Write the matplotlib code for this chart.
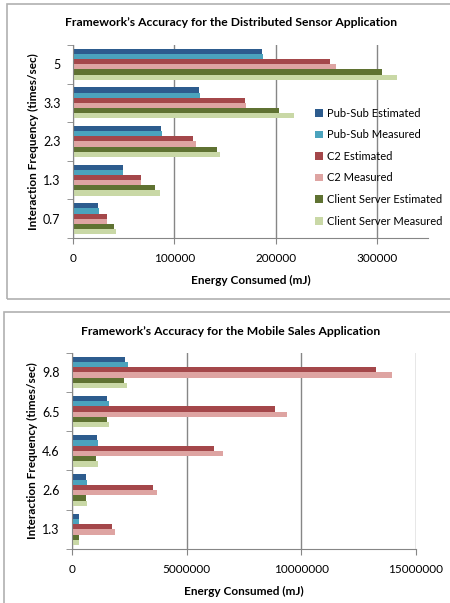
import numpy as np
import matplotlib
matplotlib.use("Agg")
import matplotlib.pyplot as plt
from matplotlib.patches import Rectangle
from matplotlib.ticker import FixedLocator

plt.rcParams['font.family'] = ['Lato', 'DejaVu Sans']

series = ["Pub-Sub Estimated", "Pub-Sub Measured", "C2 Estimated",
          "C2 Measured", "Client Server Estimated", "Client Server Measured"]
colors = ["#2D5C8E", "#4BA3BD", "#A4474A", "#DEA4A2", "#5F7232", "#C9D8A6"]

# distributed sensor application
sensor_freq = ["0.7", "1.3", "2.3", "3.3", "5"]
sensor_vals = {
    "Pub-Sub Estimated":       [24900, 49500, 86900, 124300, 186200],
    "Pub-Sub Measured":        [25200, 49500, 87900, 125200, 187500],
    "C2 Estimated":            [33800, 67500, 118000, 169200, 253800],
    "C2 Measured":             [33400, 66900, 121000, 170800, 259000],
    "Client Server Estimated": [40700, 81300, 142300, 203000, 304600],
    "Client Server Measured":  [42300, 86200, 145200, 218000, 319000],
}

# mobile sales application
sales_freq = ["1.3", "2.6", "4.6", "6.5", "9.8"]
sales_vals = {
    "Pub-Sub Estimated":       [310000, 630000, 1080000, 1530000, 2300000],
    "Pub-Sub Measured":        [320000, 660000, 1150000, 1620000, 2430000],
    "C2 Estimated":            [1760000, 3520000, 6180000, 8840000, 13250000],
    "C2 Measured":             [1860000, 3730000, 6570000, 9370000, 13980000],
    "Client Server Estimated": [290000, 600000, 1060000, 1510000, 2290000],
    "Client Server Measured":  [320000, 640000, 1140000, 1600000, 2400000],
}

W, H = 450, 603
fig = plt.figure(figsize=(W / 100, H / 100), dpi=100)

# chart frames
fig.patches.append(Rectangle((7 / W, 1 - 299 / H), 460 / W, 295 / H,
                             transform=fig.transFigure, fill=False,
                             edgecolor="#b0b0b0", linewidth=1.2))
fig.patches.append(Rectangle((4 / W, 1 - 620 / H), 460 / W, 308 / H,
                             transform=fig.transFigure, fill=False,
                             edgecolor="#b0b0b0", linewidth=1.2))


def draw(ax, cats, vals, xmax, xticks, title, title_y, legend):
    n = len(series)
    h = 0.8 / n
    y = np.arange(len(cats))
    for j, name in enumerate(series):
        ax.barh(y + 0.4 - (j + 0.5) * h, vals[name], height=h,
                color=colors[j], label=name, linewidth=0)
    ax.set_ylim(-0.5, len(cats) - 0.5)
    ax.set_xlim(0, xmax)
    ax.set_xticks(xticks)
    ax.set_xticklabels([str(t) for t in xticks], fontsize=8.5)
    ax.set_yticks(y)
    ax.set_yticklabels(cats, fontsize=9)
    ax.yaxis.set_minor_locator(FixedLocator(np.arange(len(cats) + 1) - 0.5))
    ax.tick_params(axis="y", which="major", length=0, pad=9)
    ax.tick_params(axis="y", which="minor", length=4, color="#868686")
    ax.tick_params(axis="x", length=4, color="#868686", pad=7)
    for s in ["top", "right"]:
        ax.spines[s].set_visible(False)
    for s in ["left", "bottom"]:
        ax.spines[s].set_color("#868686")
    ax.grid(axis="x", color="#868686", linewidth=1)
    ax.set_axisbelow(True)
    ax.set_xlabel("Energy Consumed (mJ)", fontsize=8.5, fontweight="bold",
                  labelpad=8)
    ax.set_ylabel("Interaction Frequency (times/sec)", fontsize=8.5,
                  fontweight="bold", labelpad=3)
    fig.text(231 / W, 1 - title_y / H, title, ha="center", va="center",
             fontsize=8.7, fontweight="bold")
    if legend:
        ax.legend(loc="upper left", bbox_to_anchor=(307 / W, 1 - 100 / H),
                  bbox_transform=fig.transFigure, frameon=False,
                  fontsize=8, handlelength=0.7, handleheight=0.7,
                  handletextpad=0.4, labelspacing=0.95, borderpad=0.2)


ax1 = fig.add_axes([73 / W, 1 - 238 / H, 355 / W, 193 / H])
draw(ax1, sensor_freq, sensor_vals, 350000, [0, 100000, 200000, 300000],
     "Framework\u2019s Accuracy for the Distributed Sensor Application", 23,
     True)

ax2 = fig.add_axes([72 / W, 1 - 549 / H, 343.7 / W, 196.3 / H])
draw(ax2, sales_freq, sales_vals, 15000000, [0, 5000000, 10000000, 15000000],
     "Framework\u2019s Accuracy for the Mobile Sales Application", 331, False)

fig.savefig("out.png", dpi=100)
